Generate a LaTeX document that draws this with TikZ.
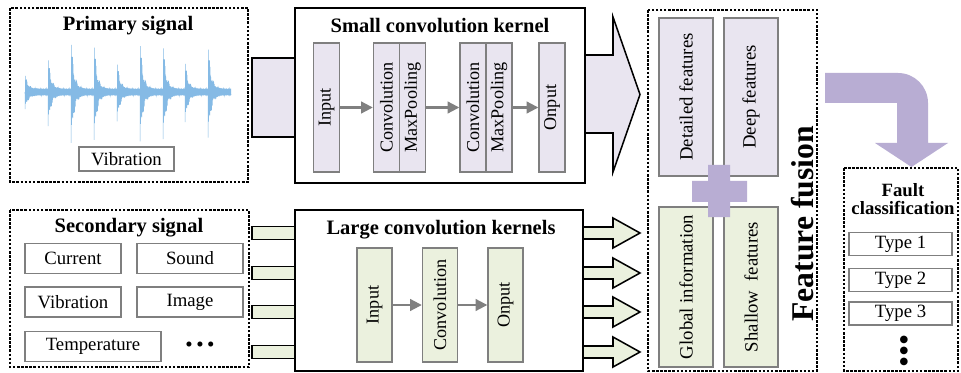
\documentclass[tikz,border=0pt]{standalone}
\usepackage{fontspec}
\setmainfont{Liberation Serif}
\newfontfamily\symfont{DejaVu Sans}
\usetikzlibrary{arrows.meta, positioning, calc}
\definecolor{lavfill}{HTML}{E9E5F0}
\definecolor{grnfill}{HTML}{EBF1DE}
\definecolor{fusepurp}{HTML}{B8ADD3}
\definecolor{wavblue}{HTML}{85BAE5}
\definecolor{boxgray}{HTML}{7F7F7F}
\definecolor{arrgray}{HTML}{808080}

\begin{document}
\begin{tikzpicture}[
  x=0.03cm, y=-0.03cm,
  >={Triangle[length=10pt, width=10pt]},
  dashframe/.style={draw=black, line width=1.3pt, dash pattern=on 2.2pt off 1.3pt},
  kbox/.style={draw=black, line width=1.6pt, fill=white},
  stubline/.style={draw=black, line width=1.3pt},
  convlayer/.style={draw=boxgray, line width=1.2pt, rotate=90, inner sep=0pt,
    font=\fontsize{15.5}{17}\selectfont},
  lavlayer/.style={convlayer, fill=lavfill},
  grnlayer/.style={convlayer, fill=grnfill},
  fuselayer/.style={font=\fontsize{16}{18}\selectfont},
  sigbox/.style={draw=boxgray, line width=1.2pt, fill=white, inner sep=0pt,
    font=\fontsize{16}{18}\selectfont},
  ttl/.style={font=\fontsize{17.5}{20}\selectfont\bfseries},
  flowarrow/.style={->, arrgray, line width=1.8pt},
  wavline/.style={wavblue, line width=0.45pt},
  typedot/.style={inner sep=0pt, font=\symfont\fontsize{8.5}{8.5}\selectfont},
]

% Canvas: 961 x 373 px, 1px = 0.03cm, y runs downward
\fill[white] (0,0) rectangle (961,373);
\useasboundingbox (0,0) rectangle (961,373);

% --- Primary signal ---
\draw[dashframe] (10,8) rectangle (248,182);
\node[ttl] (primttl) at (128,26) {Primary signal};
\foreach \bx/\ba in {25/18, 48/40, 71/62, 94/58, 117/34, 140/60, 163/57, 185/35, 208/55}{
  \draw[wavline] plot[domain=0:23, samples=170, variable=\t]
    ({\bx+\t}, {92 + (\ba*exp(-\t/2.8)*(0.4+0.6*abs(cos(\t*347))) + 3.5)*sin(\t*613)});
}
\node[sigbox, minimum width=2.85cm, minimum height=0.72cm] (primvib) at (126.5,159) {Vibration};

% --- Secondary signal ---
\draw[dashframe] (10,210) rectangle (249,367);
\node[ttl] (secttl) at (129,228) {Secondary signal};
\node[sigbox, minimum width=2.88cm, minimum height=0.9cm] (current) at (73,258.5) {Current};
\node[sigbox, minimum width=3.18cm, minimum height=0.9cm] (sound) at (190,258.5) {Sound};
\node[sigbox, minimum width=2.88cm, minimum height=0.9cm] (secvib) at (73,302) {Vibration};
\node[sigbox, minimum width=3.18cm, minimum height=0.9cm] (image) at (190,302) {Image};
\node[sigbox, minimum width=4.08cm, minimum height=0.9cm] (temper) at (93,346.5) {Temperature};
\node[font=\fontsize{18}{20}\selectfont] (moresig) at (200,347)
  {\textbullet\,\textbullet\,\textbullet};

% --- Input stubs and output arrows ---
\draw[stubline, fill=lavfill] (252,58) rectangle (300,137);
\draw[stubline, fill=lavfill]
  (580,55) -- (613,55) -- (613,17) -- (640,94.5) -- (613,172) -- (613,133) -- (580,133) -- cycle;
\foreach \yc in {233,273,312,352}{
  \draw[stubline, fill=grnfill] (252,\yc-6.5) rectangle (300,\yc+6.5);
  \draw[stubline, fill=grnfill]
    (578,\yc-6) -- (613,\yc-6) -- (613,\yc-15) -- (640,\yc) -- (613,\yc+15)
    -- (613,\yc+6) -- (578,\yc+6) -- cycle;
}

% --- Small convolution kernel ---
\node[kbox, minimum width=8.7cm, minimum height=5.25cm] (smallk) at (440,95.5) {};
\node[ttl] (smallttl) at (440,26) {Small convolution kernel};
\node[lavlayer, minimum width=3.87cm, minimum height=0.78cm] (inS) at (326.5,107.5) {Input};
\node[lavlayer, minimum width=3.87cm, minimum height=0.78cm] (cvS1) at (386.5,107.5) {Convolution};
\node[lavlayer, minimum width=3.87cm, minimum height=0.78cm] (mpS1) at (412.5,107.5) {MaxPooling};
\node[lavlayer, minimum width=3.87cm, minimum height=0.78cm] (cvS2) at (473,107.5) {Convolution};
\node[lavlayer, minimum width=3.87cm, minimum height=0.78cm] (mpS2) at (499,107.5) {MaxPooling};
\node[lavlayer, minimum width=3.87cm, minimum height=0.78cm] (outS) at (552,107.5) {Onput};
\draw[flowarrow] (inS) -- (cvS1);
\draw[flowarrow] (mpS1) -- (cvS2);
\draw[flowarrow] (mpS2) -- (outS);

% --- Large convolution kernels ---
\node[kbox, minimum width=8.64cm, minimum height=4.83cm] (largek) at (439,290.5) {};
\node[ttl] (largettl) at (441,230) {Large convolution kernels};
\node[grnlayer, minimum width=3.42cm, minimum height=1.05cm] (inL) at (374.5,305) {Input};
\node[grnlayer, minimum width=3.42cm, minimum height=1.05cm] (cvL) at (440,305) {Convolution};
\node[grnlayer, minimum width=3.42cm, minimum height=1.05cm] (outL) at (505.5,305) {Onput};
\draw[flowarrow] (inL) -- (cvL);
\draw[flowarrow] (cvL) -- (outL);

% --- Feature fusion ---
\draw[dashframe] (648,10) rectangle (817,371);
\node[lavlayer, fuselayer, minimum width=4.74cm, minimum height=1.62cm] (detfeat) at (686,97) {Detailed features};
\node[lavlayer, fuselayer, minimum width=4.74cm, minimum height=1.62cm] (deepfeat) at (751,97) {Deep features};
\node[grnlayer, fuselayer, minimum width=4.8cm, minimum height=1.62cm] (globinfo) at (686,287) {Global information};
\node[grnlayer, fuselayer, minimum width=4.8cm, minimum height=1.62cm] (shalfeat) at (751,287) {Shallow~ features};
\fill[fusepurp] (708,165) -- (730,165) -- (730,181) -- (747,181) -- (747,202) -- (730,202)
  -- (730,217) -- (708,217) -- (708,202) -- (692,202) -- (692,181) -- (708,181) -- cycle;
\node[rotate=90, font=\fontsize{27}{30}\selectfont\bfseries] (fusettl) at (803,224) {Feature fusion};

% --- Bent arrow to classification ---
\fill[fusepurp] (825,73) -- (898,73) arc[start angle=90, end angle=0, radius=0.9cm]
  -- (928,143) -- (948,143) -- (911.5,167) -- (875,143) -- (897,143) -- (897,103)
  -- (825,103) -- cycle;

% --- Fault classification ---
\draw[dashframe] (844,168) rectangle (958,371);
\node[align=center, font=\fontsize{16}{15}\selectfont\bfseries] (faultttl) at (903,199)
  {Fault\\classification};
\node[sigbox, minimum width=3.09cm, minimum height=0.69cm] (type1) at (900.5,244) {Type 1};
\node[sigbox, minimum width=3.09cm, minimum height=0.69cm] (type2) at (900.5,280) {Type 2};
\node[sigbox, minimum width=3.09cm, minimum height=0.69cm] (type3) at (900.5,313.5) {Type 3};
\node[typedot] (tdot1) at (904,340) {●};
\node[typedot] (tdot2) at (904,351) {●};
\node[typedot] (tdot3) at (904,362) {●};

\end{tikzpicture}
\end{document}
